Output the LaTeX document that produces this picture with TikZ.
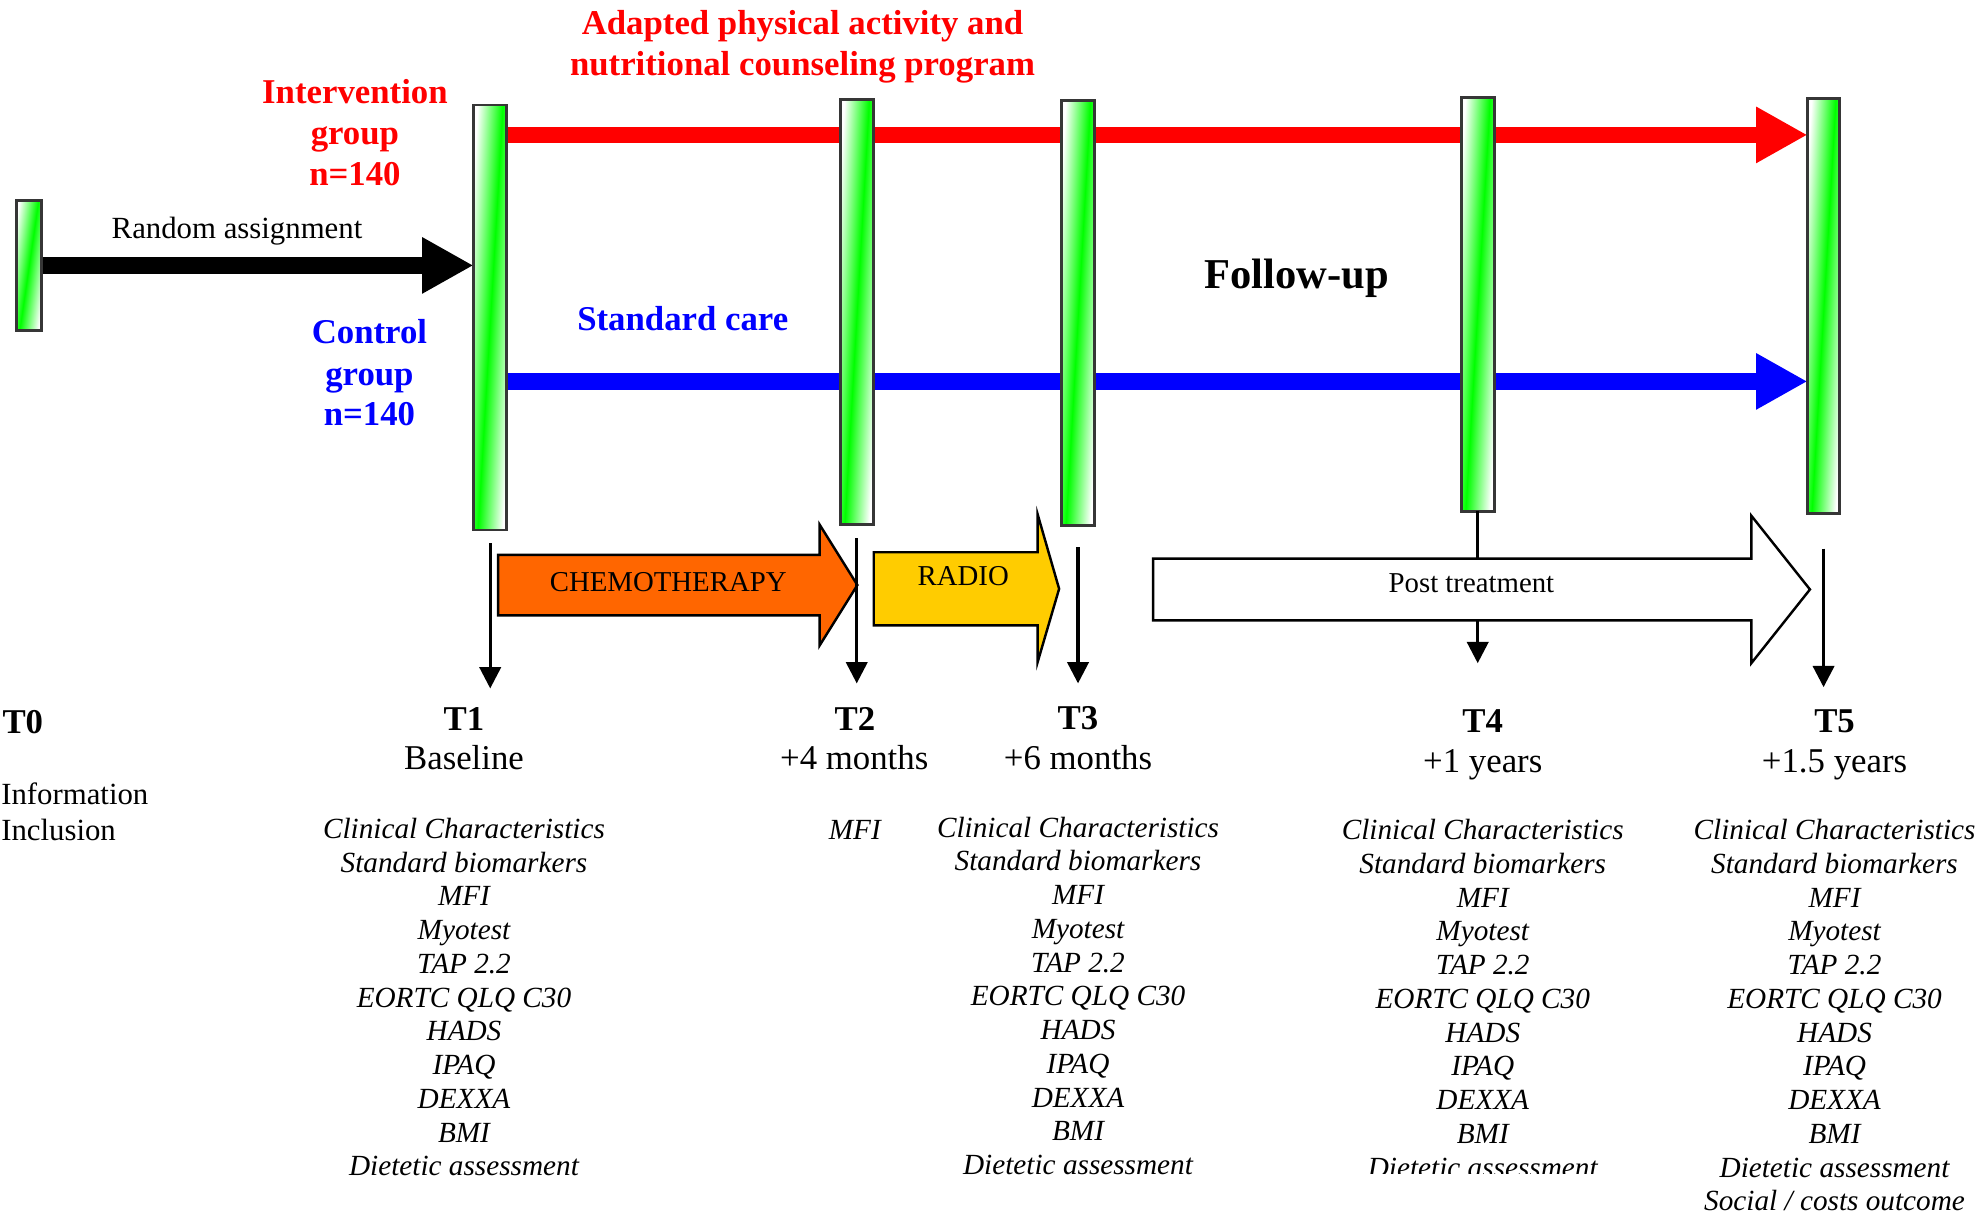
\documentclass[tikz,border=0pt]{standalone}
\usepackage{fontspec}
\setmainfont{Liberation Serif}
\usetikzlibrary{arrows.meta,backgrounds}

% one drawing unit
\newdimen\pxu
\pxu=0.02cm

\definecolor{barline}{HTML}{363636}
\definecolor{bargreen}{HTML}{00FF00}
\definecolor{chemofill}{HTML}{FF6600}
\definecolor{radiofill}{HTML}{FFCC00}
\definecolor{armred}{HTML}{FF0000}
\definecolor{armblue}{HTML}{0000FF}

% white - green - white band used inside the time-point bars
% (25bp..75bp spans the shaded rectangle, which is 2.4 bar widths wide)
\pgfdeclarehorizontalshading{barshade}{100bp}{%
  color(0bp)=(white); color(34.4bp)=(white); color(50bp)=(bargreen);
  color(65.6bp)=(white); color(100bp)=(white)}

\tikzset{
  timebar/.style={draw=barline, line width=1.3pt, inner sep=0pt, outer sep=0pt},
  armarrow/.style={line width=7.4pt, -{Triangle[length=23.2pt,width=23.8pt]}},
  tickarrow/.style={line width=1.4pt, -{Triangle[length=9.6pt,width=9.6pt]}},
  tickline/.style={line width=1.4pt},
  phase/.style={draw=black, line width=1.1pt, line join=miter},
  txt/.style={inner sep=0pt, outer sep=0pt, anchor=base},
  armlabel/.style={txt, font=\fontsize{15.7}{18}\selectfont\bfseries},
  plainlabel/.style={txt, font=\fontsize{13.9}{16}\selectfont},
  phasetext/.style={txt, font=\fontsize{13}{15}\selectfont},
  tlabel/.style={txt, font=\fontsize{15.7}{18}\selectfont\bfseries},
  tsub/.style={txt, font=\fontsize{15.7}{18}\selectfont},
  measure/.style={txt, font=\fontsize{13.2}{15}\selectfont\itshape},
  followup/.style={txt, font=\fontsize{19.2}{22}\selectfont\bfseries},
}

% time-point bar: name, centre x, centre y, width, height
% the green band runs diagonally from upper right to lower left
\newcommand\timebar[5]{%
  \begin{scope}
    \clip ({#2-#4/2},{#3-#5/2}) rectangle ({#2+#4/2},{#3+#5/2});
    \begin{scope}[transform canvas={shift={(#2,#3)}, xslant={0.75*#4/#5}}]
      \shade[shading=barshade] ({-1.2*#4},{-#5/2-4}) rectangle ({1.2*#4},{#5/2+4});
    \end{scope}
  \end{scope}
  \node[timebar, minimum width=#4*\pxu, minimum height=#5*\pxu] (#1) at (#2,#3) {};
}

\newcommand\measurelist{Clinical Characteristics, Standard biomarkers, MFI,
  Myotest, TAP 2.2, EORTC QLQ C30, HADS, IPAQ, DEXXA, BMI, Dietetic assessment}

\begin{document}
\begin{tikzpicture}[x=0.02cm, y=-0.02cm]
\useasboundingbox (0,0) rectangle (1568,964);

% ---- time-point bars ----
\timebar{B0}{22.9}{210.5}{20}{103}
\timebar{B1}{388.8}{251.8}{26.5}{337}
\timebar{B2}{679.5}{247.5}{26}{337}
\timebar{B3}{855}{248.5}{26}{337}
\timebar{B4}{1172}{241.3}{26}{328.5}
\timebar{B5}{1446.3}{242.8}{25.5}{329.5}

% ---- randomisation and study arms (behind the bars) ----
\begin{pgfonlayer}{background}
  \fill[white] (0,0) rectangle (1568,964);
  \coordinate (redlane) at (0,107);
  \coordinate (bluelane) at (0,302.5);
  \draw[armarrow, black] (B0.east) -- (B1.west |- B0.east);
  \draw[armarrow, armred] (B1.center |- redlane) -- (B5.west |- redlane);
  \draw[armarrow, armblue] (B1.center |- bluelane) -- (B5.west |- bluelane);
\end{pgfonlayer}

% ---- arm labels ----
\node[armlabel, text=armred] (adapt1) at (636.5,27) {Adapted physical activity and};
\node[armlabel, text=armred] (adapt2) at (636.5,59.5) {nutritional counseling program};
\node[armlabel, text=armred] (int1) at (281.5,82) {Intervention};
\node[armlabel, text=armred] (int2) at (281.5,114.5) {group};
\node[armlabel, text=armred] (int3) at (281.5,147) {n=140};
\node[armlabel, text=armblue] (ctl1) at (293,272.5) {Control};
\node[armlabel, text=armblue] (ctl2) at (293,305.5) {group};
\node[armlabel, text=armblue] (ctl3) at (293,337.5) {n=140};
\node[armlabel, text=armblue] (stdcare) at (541.5,262.5) {Standard care};
\node[plainlabel] (random) at (188,189.5) {Random assignment};
\node[followup] (follow) at (1028.5,229) {Follow-up};

% ---- treatment phases ----
\draw[phase, fill=chemofill] (395,440) -- (650,440) -- (650,416) -- (680,464)
  -- (650,512) -- (650,488) -- (395,488) -- cycle;
\node[phasetext] (chemo) at (530,469) {CHEMOTHERAPY};
\draw[phase, fill=radiofill] (693,438) -- (823,438) -- (823,408) -- (840,467)
  -- (823,525) -- (823,496) -- (693,496) -- cycle;
\node[phasetext] (radio) at (764,464.5) {RADIO};
\draw[phase, fill=white] (914.5,443) -- (1389,443) -- (1389,409) -- (1435.5,467.5)
  -- (1389,526) -- (1389,492) -- (914.5,492) -- cycle;
\node[phasetext] (post) at (1167,470) {Post treatment};
\coordinate (posttop) at (0,443);
\coordinate (postbot) at (0,492);

% ---- assessment arrows ----
\coordinate (tip1) at (0,546);
\coordinate (tip2) at (0,542);
\coordinate (tip3) at (0,542);
\coordinate (tip4) at (0,526);
\coordinate (tip5) at (0,545);
\draw[tickarrow] ([yshift=-10.5*\pxu]B1.south) -- (B1.south |- tip1);
\draw[tickarrow] ([yshift=-11*\pxu]B2.south) -- (B2.south |- tip2);
\draw[tickarrow] ([yshift=-17*\pxu]B3.south) -- (B3.south |- tip3);
\draw[tickline] (B4.south) -- (B4.south |- posttop);
\draw[tickarrow] (B4.south |- postbot) -- (B4.south |- tip4);
\draw[tickarrow] ([yshift=-27.5*\pxu]B5.south) -- (B5.south |- tip5);

% ---- time-point labels ----
\node[tlabel, anchor=base west] (t0) at (2,582) {T0};
\node[plainlabel, anchor=base west] (info) at (1,638) {Information};
\node[plainlabel, anchor=base west] (incl) at (1,667) {Inclusion};
\node[tlabel] (t1) at (368,579.5) {T1};
\node[tsub] (t1s) at (368,610) {Baseline};
\node[tlabel] (t2) at (678,579) {T2};
\node[tsub] (t2s) at (677.5,610) {+4 months};
\node[tlabel] (t3) at (855,578.5) {T3};
\node[tsub] (t3s) at (855,610) {+6 months};
\node[tlabel] (t4) at (1176,581) {T4};
\node[tsub] (t4s) at (1176,612.5) {+1 years};
\node[tlabel] (t5) at (1455,581) {T5};
\node[tsub] (t5s) at (1455,612.5) {+1.5 years};

% ---- measurements per time point ----
\foreach \mname [count=\i from 0] in \measurelist
  \node[measure] (mA-\i) at (368,{665+26.75*\i}) {\mname};
\node[measure] (mB-0) at (678,666) {MFI};
\foreach \mname [count=\i from 0] in \measurelist
  \node[measure] (mC-\i) at (855,{664+26.75*\i}) {\mname};
\begin{scope}
  \clip (1000,600) rectangle (1350,930.5);
  \foreach \mname [count=\i from 0] in \measurelist
    \node[measure] (mD-\i) at (1176,{666+26.75*\i}) {\mname};
\end{scope}
\foreach \mname [count=\i from 0] in \measurelist
  \node[measure] (mE-\i) at (1455,{666+26.75*\i}) {\mname};
\node[measure] (mE-11) at (1455,{666+26.75*11}) {Social / costs outcome};

\end{tikzpicture}
\end{document}
